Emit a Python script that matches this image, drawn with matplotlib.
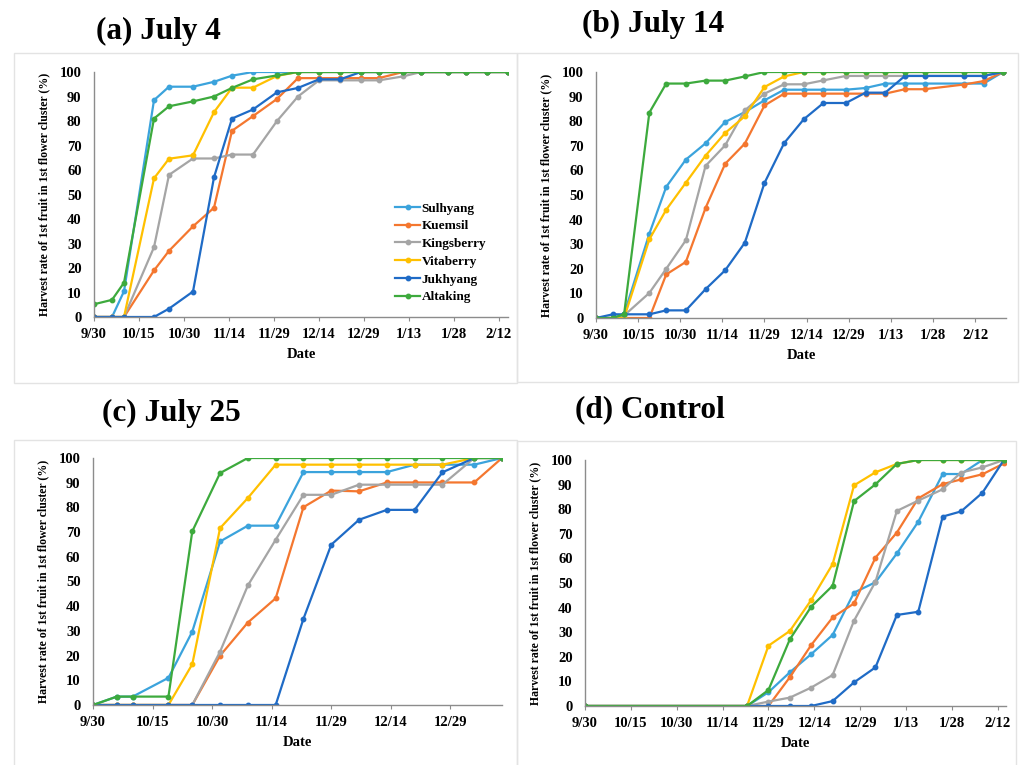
import matplotlib
matplotlib.use("Agg")
import matplotlib.pyplot as plt
from matplotlib.patches import Rectangle

plt.rcParams['font.family'] = ['Liberation Serif', 'DejaVu Serif']
plt.rcParams['font.weight'] = 'bold'

names = ['Sulhyang', 'Kuemsil', 'Kingsberry', 'Vitaberry', 'Jukhyang', 'Altaking']
colors = ['#3BA3DC', '#F4772F', '#A5A5A5', '#FFC000', '#1F6BC6', '#3DAA3D']

tick_days = [0, 15, 30, 45, 60, 75, 90, 105, 120, 135]
tick_labels = ['9/30', '10/15', '10/30', '11/14', '11/29', '12/14', '12/29', '1/13', '1/28', '2/12']

# (a) July 4  -- days after 9/30
a_days = [0, 6, 10, 20, 25, 33, 40, 46, 53, 61, 68, 75, 82, 89, 95, 103, 109, 118, 124, 131, 138]
a_sulhyang = [0, 0, 10.5, 88.5, 94, 94, 96, 98.5, 100, 100, 100, 100, 100, 100, 100, 100, 100, 100, 100, 100, 100]
a_kuemsil = [0, 0, 0, 19, 27, 37, 44.6, 76, 82, 89, 97.5, 97.5, 97.5, 97.5, 97.5, 100, 100, 100, 100, 100, 100]
a_kingsberry = [0, 0, 0, 28.5, 58, 64.7, 64.7, 66.3, 66.3, 80, 90, 96.6, 96.6, 96.6, 96.6, 98.2, 100, 100, 100, 100, 100]
a_vitaberry = [0, 0, 0, 56.6, 64.6, 66, 83.6, 93.6, 93.6, 98.4, 100, 100, 100, 100, 100, 100, 100, 100, 100, 100, 100]
a_jukhyang = [0, 0, 0, 0, 3.4, 10.4, 57, 81, 84.7, 91.7, 93.5, 97, 97, 100, 100, 100, 100, 100, 100, 100, 100]
a_altaking = [5.2, 7, 14, 81, 86, 88, 90, 93.5, 97, 98.6, 100, 100, 100, 100, 100, 100, 100, 100, 100, 100, 100]

# (b) July 14
b_days = [0, 6, 10, 19, 25, 32, 39, 46, 53, 60, 67, 74, 81, 89, 96, 103, 110, 117, 131, 138, 145]
b_sulhyang = [0, 0, 1.5, 34.3, 53.3, 64.4, 71, 79.7, 83.7, 88.5, 92.8, 92.8, 92.8, 92.8, 93.5, 95.3, 95.3, 95.3, 95.3, 95.3, 100]
b_kuemsil = [0, 0, 0, 0, 17.7, 22.8, 44.7, 62.7, 70.9, 86.4, 91.2, 91.2, 91.2, 91.2, 91.2, 91.2, 93, 93, 94.9, 96.3, 100]
b_kingsberry = [0, 0, 1, 10.2, 20, 31.6, 61.8, 70.2, 84.4, 91.2, 95, 95, 96.6, 98.4, 98.4, 98.4, 98.4, 98.4, 98.4, 98.4, 100]
b_vitaberry = [0, 0, 0, 32, 44, 55, 66, 75.2, 82, 93.9, 98.2, 100, 100, 100, 100, 100, 100, 100, 100, 100, 100]
b_jukhyang = [0, 1.5, 1.5, 1.5, 3.1, 3.1, 11.7, 19.4, 30.6, 54.9, 71.1, 80.8, 87.4, 87.4, 91.6, 91.6, 98.4, 98.4, 98.4, 98.4, 100]
b_altaking = [0, 0, 1.5, 83.5, 95.3, 95.3, 96.5, 96.5, 98.2, 100, 100, 100, 100, 100, 100, 100, 100, 100, 100, 100, 100]

# (c) July 25
c_days = [0, 6, 10, 19, 25, 32, 39, 46, 53, 60, 67, 74, 81, 88, 96, 103]
c_sulhyang = [0, 3.4, 3.4, 11, 29.7, 66.2, 72.6, 72.6, 94.3, 94.3, 94.3, 94.3, 97.3, 97.3, 97.3, 100]
c_kuemsil = [0, 0, 0, 0, 0, 20, 33.4, 43.2, 80.1, 86.8, 86.5, 90.1, 90.1, 90.1, 90.1, 100]
c_kingsberry = [0, 0, 0, 0, 0, 21.6, 48.4, 66.9, 85.1, 85.1, 89.2, 89.2, 89.2, 89.2, 100, 100]
c_vitaberry = [0, 0, 0, 0, 16.5, 71.6, 83.8, 97.3, 97.3, 97.3, 97.3, 97.3, 97.3, 97.3, 100, 100]
c_jukhyang = [0, 0, 0, 0, 0, 0, 0, 0, 34.9, 64.9, 75, 79, 79, 94.2, 100, 100]
c_altaking = [0, 3.4, 3.4, 3.4, 70.3, 93.9, 100, 100, 100, 100, 100, 100, 100, 100, 100, 100]

# (d) Control
d_days = [0, 53, 60, 67, 74, 81, 88, 95, 102, 109, 117, 123, 130, 137]
d_sulhyang = [0, 0, 5.6, 13.7, 21.1, 28.9, 46.1, 50.3, 62, 74.9, 94.3, 94.3, 100, 100]
d_kuemsil = [0, 0, 0, 11.7, 24.8, 36, 41.7, 60.3, 70.5, 84.4, 90.2, 92.1, 94.2, 98.6]
d_kingsberry = [0, 0, 1.8, 3.4, 7.5, 12.6, 34.7, 50.5, 79.3, 83.5, 88.1, 94.9, 97, 100]
d_vitaberry = [0, 0, 24.5, 30.5, 43.1, 57.7, 89.7, 95, 98.4, 100, 100, 100, 100, 100]
d_jukhyang = [0, 0, 0, 0, 0, 2, 9.6, 15.7, 37, 38.3, 77, 79.1, 86.7, 100]
d_altaking = [0, 0, 6.5, 27.1, 40.4, 48.9, 83.3, 90.1, 98.4, 100, 100, 100, 100, 100]

W, H = 1022, 765
fig = plt.figure(figsize=(W / 100, H / 100), dpi=100)


def px_rect(l, t, r, b):
    return [l / W, 1 - b / H, (r - l) / W, (b - t) / H]


def panel(rect, days, series, xmax, ticks, labels):
    ax = fig.add_axes(px_rect(*rect))
    for vals, name, c in zip(series, names, colors):
        ax.plot(days, vals, color=c, lw=1.6, marker='o', ms=3.2, label=name)
    ax.set_xlim(0, xmax)
    ax.set_ylim(0, 100)
    ax.set_yticks(range(0, 101, 10))
    ax.set_xticks(ticks)
    ax.set_xticklabels(labels)
    for s in ['top', 'right']:
        ax.spines[s].set_visible(False)
    for s in ['left', 'bottom']:
        ax.spines[s].set_color('#8c8c8c')
        ax.spines[s].set_linewidth(1.0)
    ax.tick_params(axis='y', length=0, pad=9, labelsize=10.5)
    ax.tick_params(axis='x', length=3, color='#8c8c8c', pad=5, labelsize=10.5)
    for t in ax.get_xticklabels() + ax.get_yticklabels():
        t.set_fontweight('bold')
    ax.set_xlabel('Date', fontsize=10.5, fontweight='bold', labelpad=5)
    ax.set_ylabel('Harvest rate of 1st fruit in 1st flower cluster (%)',
                  fontsize=8.5, fontweight='bold', labelpad=7)
    ax.set_facecolor('none')
    return ax


# panel boxes
for (l, t, r, b) in [(14, 53, 517, 383), (517, 53, 1018, 382), (14, 440, 517, 766), (517, 441, 1016, 766)]:
    fig.patches.append(Rectangle((l / W, 1 - b / H), (r - l) / W, (b - t) / H,
                                 transform=fig.transFigure, fill=False,
                                 edgecolor='#e3e3e3', lw=1.0, zorder=0))

ax_a = panel((94, 72, 508, 317), a_days,
             [a_sulhyang, a_kuemsil, a_kingsberry, a_vitaberry, a_jukhyang, a_altaking],
             138, tick_days, tick_labels)
ax_b = panel((596, 72, 1006, 318), b_days,
             [b_sulhyang, b_kuemsil, b_kingsberry, b_vitaberry, b_jukhyang, b_altaking],
             146, tick_days, tick_labels)
ax_c = panel((93, 458, 502, 705), c_days,
             [c_sulhyang, c_kuemsil, c_kingsberry, c_vitaberry, c_jukhyang, c_altaking],
             103, tick_days[:7], tick_labels[:7])
ax_d = panel((585, 460, 1006, 706), d_days,
             [d_sulhyang, d_kuemsil, d_kingsberry, d_vitaberry, d_jukhyang, d_altaking],
             137.7, tick_days, tick_labels)

leg = ax_a.legend(loc='upper left', bbox_to_anchor=(390 / W, 1 - 197 / H),
                  bbox_transform=fig.transFigure, frameon=False,
                  prop={'size': 9.5, 'weight': 'bold'}, handlelength=1.9,
                  handletextpad=0.1, labelspacing=0.42, borderaxespad=0)

titles = [('(a) July 4', 96, 31), ('(b) July 14', 582, 24),
          ('(c) July 25', 102, 413), ('(d) Control', 575, 410)]
for txt, x, y in titles:
    fig.text(x / W, 1 - y / H, txt, fontsize=22.5, fontweight='bold',
             ha='left', va='center')

fig.savefig('out.png', dpi=100)
